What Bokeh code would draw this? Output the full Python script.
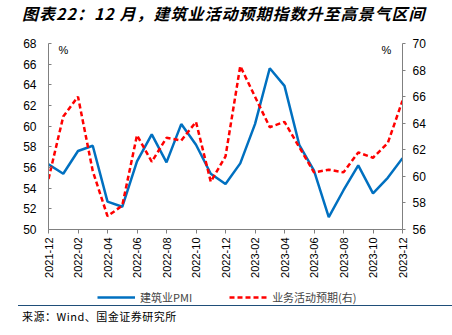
import math
from bokeh.plotting import figure
from bokeh.layouts import column
from bokeh.models import (Range1d, LinearAxis, FixedTicker, Label, Legend, LegendItem,
                          ColumnDataSource, Div)
from bokeh.embed import file_html
from bokeh.resources import INLINE

months = ["2021-12", "2022-01", "2022-02", "2022-03", "2022-04", "2022-05", "2022-06",
          "2022-07", "2022-08", "2022-09", "2022-10", "2022-11", "2022-12",
          "2023-01", "2023-02", "2023-03", "2023-04", "2023-05", "2023-06",
          "2023-07", "2023-08", "2023-09", "2023-10", "2023-11", "2023-12"]
construction_pmi = [56.3, 55.4, 57.6, 58.1, 52.7, 52.2, 56.6, 59.2, 56.5, 60.2, 58.2, 55.4,
                    54.4, 56.4, 60.2, 65.6, 63.9, 58.2, 55.7, 51.2, 53.8, 56.2, 53.5, 55.0, 56.9]
activity_expect = [59.8, 64.5, 66.0, 60.4, 57.0, 57.8, 63.1, 61.1, 62.9, 62.7, 64.1, 59.6,
                   61.5, 68.3, 66.0, 63.7, 64.1, 62.2, 60.3, 60.5, 60.3, 61.8, 61.4, 62.5, 65.7]
series_names = ["建筑业PMI", "业务活动预期(右)"]
tick_labels = months[::2]
title_text = "图表22：12 月，建筑业活动预期指数升至高景气区间"
source_text = "来源：Wind、国金证券研究所"

W = 452
TOP_H = 28          # title block
RULE_H = 2          # rule under title
FIG_H = 255         # chart block
LEG_H = 20          # legend block
BOT_H = 30          # source block (with its own top rule)
FL, FR = 48, 402
FT, FB = 43 - TOP_H - RULE_H, 229 - TOP_H - RULE_H   # frame edges inside the chart figure

CJK = "Noto Sans CJK SC"
FONT = "Liberation Sans"
AX = "#808080"
RULE = "#1F4E79"
BLUE = "#0070C0"
RED = "#FF0000"
DASH = "5 3"

src = ColumnDataSource(dict(x=list(range(len(months))), pmi=construction_pmi, exp=activity_expect))

p = figure(width=W, height=FIG_H, output_backend="svg", toolbar_location=None,
           x_range=Range1d(0, len(months) - 1), y_range=Range1d(50, 68),
           min_border_left=FL, min_border_right=W - FR, min_border_top=FT,
           min_border_bottom=FIG_H - FB, margin=0)
p.extra_y_ranges = {"right": Range1d(56, 70)}
p.outline_line_color = None
p.xgrid.visible = False
p.ygrid.visible = False
p.background_fill_color = "white"
p.border_fill_color = "white"

xa = p.xaxis[0]
xa.ticker = FixedTicker(ticks=list(range(0, len(months), 2)))
xa.major_label_overrides = {i * 2: lab for i, lab in enumerate(tick_labels)}
xa.major_label_orientation = math.pi / 2
xa.major_label_text_font = FONT
xa.major_label_text_font_size = "11px"
xa.major_label_text_color = "#000000"
xa.axis_line_color = AX
xa.major_tick_line_color = AX
xa.major_tick_out = 4
xa.major_tick_in = 0
xa.minor_tick_line_color = None
xa.major_label_standoff = 4

ya = p.yaxis[0]
ya.ticker = FixedTicker(ticks=list(range(50, 69, 2)))
ya.major_label_text_font = FONT
ya.major_label_text_font_size = "12px"
ya.major_label_text_color = "#000000"
ya.axis_line_color = AX
ya.major_tick_line_color = AX
ya.major_tick_in = 3
ya.major_tick_out = 0
ya.minor_tick_line_color = None
ya.major_label_standoff = 12

ry = LinearAxis(y_range_name="right", ticker=FixedTicker(ticks=list(range(56, 71, 2))))
ry.major_label_text_font = FONT
ry.major_label_text_font_size = "12px"
ry.major_label_text_color = "#000000"
ry.axis_line_color = AX
ry.major_tick_line_color = AX
ry.major_tick_out = 3
ry.major_tick_in = 0
ry.minor_tick_line_color = None
ry.major_label_standoff = 7
p.add_layout(ry, "right")

p.line("x", "pmi", source=src, line_color=BLUE, line_width=2.5)
p.line("x", "exp", source=src, line_color=RED, line_width=2.5,
       line_dash=DASH, y_range_name="right")

# "%" unit marks at the top of both axes (frame-relative screen units)
for xs in (58, 381):
    p.add_layout(Label(x=xs - FL, y=FB - FT, x_units="screen", y_units="screen",
                       text="%", text_font=FONT, text_font_size="11px",
                       text_color="#000000", text_baseline="top", text_align="left"))

# legend strip: a small figure whose renderers share the series' style; its range
# keeps their lines out of view so only the legend shows
lg = figure(width=W, height=LEG_H, output_backend="svg", toolbar_location=None,
            x_axis_type=None, y_axis_type=None, min_border=0, margin=0,
            x_range=Range1d(0, 1), y_range=Range1d(0, 1))
lg.outline_line_color = None
lg.grid.visible = False
lr1 = lg.line("x", "pmi", source=src, line_color=BLUE, line_width=2.5)
lr2 = lg.line("x", "exp", source=src, line_color=RED, line_width=2.5, line_dash=DASH)
legend = Legend(items=[LegendItem(label=series_names[0], renderers=[lr1]),
                       LegendItem(label=series_names[1], renderers=[lr2])],
                orientation="horizontal", location=(97 - FL, 0),
                glyph_width=38, glyph_height=12, spacing=37, padding=0, margin=0,
                label_text_font=CJK, label_text_font_size="11px",
                label_standoff=5, border_line_color=None, background_fill_alpha=0)
lg.add_layout(legend, "center")

title_div = Div(text=f'<span style="display:inline-block;margin-left:22px;margin-top:3px;'
                     f'font-family:\'{CJK}\';font-size:16px;font-weight:bold;font-style:italic;'
                     f'letter-spacing:1px;line-height:20px;color:#000;white-space:nowrap;">'
                     f'{title_text}</span>',
                width=W, height=TOP_H, margin=0)
title_rule = Div(text=f'<div style="margin-left:18px;width:434px;height:0px;'
                      f'border-top:2px solid {RULE};"></div>',
                 width=W, height=RULE_H, margin=0)
source_div = Div(text=f'<div style="margin-left:18px;width:434px;height:28px;'
                      f'border-top:1.5px solid {RULE};">'
                      f'<span style="display:inline-block;margin-left:4px;margin-top:3px;'
                      f'font-family:\'{CJK}\';font-size:11px;letter-spacing:0.5px;'
                      f'line-height:14px;color:#000;">{source_text}</span></div>',
                 width=W, height=BOT_H, margin=0)

layout = column(title_div, title_rule, p, lg, source_div, spacing=0, margin=0)
open("out.html", "w").write(file_html(layout, INLINE))
